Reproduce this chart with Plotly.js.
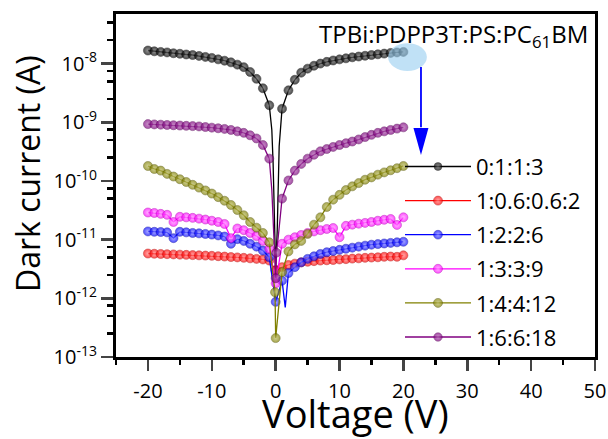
<!DOCTYPE html>
<html><head><meta charset="utf-8">
<script src="https://cdn.plot.ly/plotly-3.0.1.min.js"></script>
<style>html,body{margin:0;padding:0;background:#fff}#chart{width:608px;height:439px}</style>
</head><body><div id="chart"></div>
<script>
// Voltage grid (V)
const voltage = [-20,-19,-18,-17,-16,-15,-14,-13,-12,-11,-10,-9,-8,-7,-6,-5,-4,-3,-2,-1,0,1,2,3,4,5,6,7,8,9,10,11,12,13,14,15,16,17,18,19,20];

const seriesNames = ['0:1:1:3','1:0.6:0.6:2','1:2:2:6','1:3:3:9','1:4:4:12','1:6:6:18'];

// Dark current (A) on the voltage grid
const current_0113 = [1.67e-8,1.62e-8,1.58e-8,1.55e-8,1.5e-8,1.47e-8,1.43e-8,1.4e-8,1.35e-8,1.3e-8,1.25e-8,1.18e-8,1.12e-8,1.05e-8,9.6e-9,8.7e-9,7.2e-9,5.5e-9,3.8e-9,1.95e-9,
  3e-12,
  1.7e-9,3.5e-9,5.3e-9,7.0e-9,8.2e-9,9.2e-9,1.0e-8,1.07e-8,1.13e-8,1.18e-8,1.23e-8,1.28e-8,1.32e-8,1.36e-8,1.4e-8,1.44e-8,1.48e-8,1.52e-8,1.55e-8,1.58e-8];
const current_1_06 = [5.8e-12,5.75e-12,5.7e-12,5.65e-12,5.6e-12,5.55e-12,5.5e-12,5.45e-12,5.4e-12,5.35e-12,5.3e-12,5.22e-12,5.15e-12,5.05e-12,4.98e-12,4.9e-12,4.8e-12,4.7e-12,4.6e-12,4.4e-12,
  3.0e-12,
  3.4e-12,3.7e-12,3.9e-12,4.1e-12,4.2e-12,4.3e-12,4.4e-12,4.45e-12,4.5e-12,4.6e-12,4.65e-12,4.75e-12,4.8e-12,4.9e-12,4.95e-12,5.0e-12,5.1e-12,5.15e-12,5.1e-12,5.4e-12];
const current_1226 = [1.38e-11,1.36e-11,1.35e-11,1.33e-11,1.06e-11,1.36e-11,1.33e-11,1.3e-11,1.28e-11,1.25e-11,1.22e-11,1.18e-11,1.13e-11,8.5e-12,1.02e-11,9.5e-12,8.5e-12,7.6e-12,6.5e-12,5e-12,
  8.7e-13,
  2.0e-12,2.7e-12,3.4e-12,4.1e-12,4.7e-12,5.2e-12,5.7e-12,6.1e-12,6.4e-12,6.7e-12,7.0e-12,7.3e-12,7.6e-12,7.9e-12,8.2e-12,8.4e-12,8.6e-12,8.8e-12,9.0e-12,9.2e-12];
const current_1339 = [2.9e-11,2.85e-11,2.75e-11,2.65e-11,2.0e-11,2.45e-11,2.4e-11,2.35e-11,2.28e-11,2.2e-11,2.1e-11,2.0e-11,1.85e-11,1.06e-11,1.55e-11,1.45e-11,1.3e-11,1.15e-11,9.5e-12,7e-12,
  1.8e-12,
  8.5e-12,1.0e-11,1.1e-11,1.2e-11,1.3e-11,1.38e-11,1.45e-11,1.52e-11,1.58e-11,1.1e-11,1.72e-11,1.8e-11,1.87e-11,1.93e-11,2.0e-11,2.1e-11,2.18e-11,2.25e-11,1.78e-11,2.4e-11];
const current_14412 = [1.8e-10,1.6e-10,1.5e-10,1.32e-10,1.19e-10,1.07e-10,9.6e-11,8.6e-11,7.7e-11,6.9e-11,6.1e-11,5.3e-11,4.6e-11,3.9e-11,3.2e-11,2.6e-11,2.0e-11,1.6e-11,1.3e-11,9e-12,
  2.1e-13,
  2.8e-12,6.3e-12,8.3e-12,9.5e-12,1.25e-11,1.8e-11,2.4e-11,3.6e-11,4.8e-11,5.8e-11,7e-11,8.1e-11,9.2e-11,1.05e-10,1.15e-10,1.28e-10,1.4e-10,1.52e-10,1.65e-10,1.8e-10];
const current_16618 = [9.3e-10,9.2e-10,9.1e-10,9.0e-10,8.9e-10,8.8e-10,8.7e-10,8.6e-10,8.5e-10,8.3e-10,8.1e-10,7.9e-10,7.7e-10,7.4e-10,7.0e-10,6.6e-10,6.0e-10,5.3e-10,4.1e-10,2.4e-10,
  2.2e-12,
  5e-11,1.02e-10,1.5e-10,1.95e-10,2.4e-10,2.8e-10,3.2e-10,3.5e-10,3.8e-10,4.1e-10,4.4e-10,4.7e-10,5.1e-10,5.6e-10,6.1e-10,6.6e-10,7.0e-10,7.4e-10,7.8e-10,8.2e-10];

// Extra measured points near 0 V that carry a symbol
const extraMarkedV = {'1:4:4:12':[-0.1], '1:6:6:18':[0.1]};
const extraMarkedI = {'1:4:4:12':[1.27e-12], '1:6:6:18':[6e-12]};
// Extra points near 0 V drawn by the connecting line only
const lineOnlyV = {'0:1:1:3':[-0.6,-0.4,-0.25,0.25,0.4,0.55], '1:2:2:6':[1.5], '1:6:6:18':[-0.6,-0.35,0.4]};
const lineOnlyI = {'0:1:1:3':[7.4e-10,2e-10,2.8e-11,1.5e-11,1.05e-10,3.9e-10], '1:2:2:6':[7e-13], '1:6:6:18':[7e-11,1.5e-11,1.1e-11]};

const xTickVals = [-20,-10,0,10,20,30,40,50];
const xTickText = ['-20','-10','0','10','20','30','40','50'];
const yTickVals = [1e-13,1e-12,1e-11,1e-10,1e-9,1e-8];
const yTickText = ['10<sup>-13</sup>','10<sup>-12</sup>','10<sup>-11</sup>','10<sup>-10</sup>','10<sup>-9</sup>','10<sup>-8</sup>'];
const yMinorVals = [2.5e-13,5e-13,7.5e-13,2.5e-12,5e-12,7.5e-12,2.5e-11,5e-11,7.5e-11,2.5e-10,5e-10,7.5e-10,2.5e-9,5e-9,7.5e-9,2.5e-8,5e-8];

const seriesCurrents = [current_0113,current_1_06,current_1226,current_1339,current_14412,current_16618];
const colors = ['#000000','#ff0000','#0000ff','#ff00ff','#808000','#800080'];
const lights = ['#6a6a6a','#ff8a8a','#8a8aff','#ff9aff','#bcbc66','#b066b0'];
const edges  = ['#000000','#b00000','#0000a0','#b000b0','#505000','#500050'];

const traces = seriesNames.map((name, k) => {
  const pts = voltage.map((v, i) => ({x: v, y: seriesCurrents[k][i], m: true}));
  (extraMarkedV[name] || []).forEach((v, i) => pts.push({x: v, y: extraMarkedI[name][i], m: true}));
  (lineOnlyV[name] || []).forEach((v, i) => pts.push({x: v, y: lineOnlyI[name][i], m: false}));
  pts.sort((a, b) => a.x - b.x);
  return {
    type: 'scatter', mode: 'lines+markers', name: name, legendgroup: name,
    x: pts.map(p => p.x), y: pts.map(p => p.y),
    line: {color: colors[k], width: 1.3},
    marker: {color: colors[k], size: pts.map(p => p.m ? 9 : 0),
             gradient: {type: 'radial', color: lights[k]},
             line: {width: pts.map(p => p.m ? 0.6 : 0), color: edges[k]}}
  };
});

const fontFam = '"Open Sans", "Noto Sans", sans-serif';
const layout = {
  width: 608, height: 439,
  margin: {l: 116, r: 13, t: 14, b: 82},
  paper_bgcolor: '#fff', plot_bgcolor: '#fff',
  font: {family: fontFam, color: '#000'},
  showlegend: true,
  legend: {x: 0.5929, y: 0.616, xanchor: 'left', yanchor: 'top', bgcolor: 'rgba(0,0,0,0)',
           font: {size: 22, family: fontFam}, itemwidth: 66, tracegroupgap: 2.5},
  xaxis: {
    range: [-25, 50], tickmode: 'array', tickvals: xTickVals, ticktext: xTickText,
    ticks: 'outside', ticklen: 11, tickwidth: 2.5, ticklabelstandoff: 3,
    showline: true, linewidth: 3, linecolor: '#000', mirror: true, showgrid: false, zeroline: false,
    tickfont: {size: 20, family: fontFam},
    minor: {tick0: 0, dtick: 5, ticks: 'outside', ticklen: 5, tickwidth: 2.5, tickcolor: '#000'}
  },
  yaxis: {
    type: 'log', range: [-13, Math.log10(7e-8)],
    tickmode: 'array', tickvals: yTickVals, ticktext: yTickText,
    ticks: 'outside', ticklen: 12, tickwidth: 2.5,
    showline: true, linewidth: 3, linecolor: '#000', mirror: true, showgrid: false, zeroline: false,
    tickfont: {size: 20, family: fontFam},
    minor: {tickmode: 'array', tickvals: yMinorVals, ticks: 'outside', ticklen: 6, tickwidth: 2.5, tickcolor: '#000'}
  },
  annotations: [
    {xref: 'paper', yref: 'paper', x: 0.99, y: 0.94, xanchor: 'right', yanchor: 'middle',
     text: 'TPBi:PDPP3T:PS:PC<sub>61</sub>BM', showarrow: false, font: {size: 24, family: fontFam}},
    {xref: 'paper', yref: 'paper', x: -0.186, y: 0.536, xanchor: 'center', yanchor: 'middle',
     text: 'Dark current (A)', textangle: -90, showarrow: false, font: {size: 32, family: fontFam}},
    {xref: 'paper', yref: 'paper', x: 0.5, y: -0.1647, xanchor: 'center', yanchor: 'middle',
     text: 'Voltage (V)', showarrow: false, font: {size: 38, family: fontFam}}
  ],
  shapes: [
    {type: 'circle', xref: 'paper', yref: 'paper', x0: 0.568, x1: 0.649, y0: 0.834, y1: 0.915,
     fillcolor: 'rgba(150,205,240,0.6)', line: {width: 0}, layer: 'above'},
    {type: 'line', xref: 'paper', yref: 'paper', x0: 0.6367, x1: 0.6367, y0: 0.8455, y1: 0.67,
     line: {color: '#0000ff', width: 1.8}},
    {type: 'path', xref: 'paper', yref: 'paper',
     path: 'M0.6210,0.6676 L0.6523,0.6676 L0.6367,0.5889 Z', fillcolor: '#0000ff', line: {width: 0}}
  ]
};

Plotly.newPlot('chart', traces, layout, {staticPlot: true, displayModeBar: false});
</script>
</body></html>
